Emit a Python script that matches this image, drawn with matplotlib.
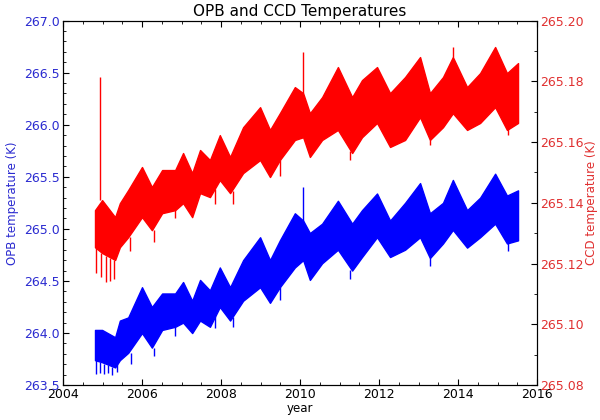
import numpy as np
import matplotlib
matplotlib.use('Agg')
import matplotlib.pyplot as plt
from matplotlib.ticker import MultipleLocator

# time knots (decimal year)
years = [2004.81, 2004.99, 2005.32, 2005.44, 2005.65, 2006.00, 2006.25, 2006.51,
         2006.84, 2007.04, 2007.27, 2007.47, 2007.72, 2007.97, 2008.23, 2008.56,
         2008.99, 2009.24, 2009.49, 2009.87, 2010.08, 2010.25, 2010.56, 2010.96,
         2011.32, 2011.57, 2011.95, 2012.28, 2012.66, 2013.04, 2013.29, 2013.62,
         2013.87, 2014.23, 2014.56, 2014.94, 2015.24, 2015.52]

# OPB temperature envelope (K)
opb_high = [264.03, 264.03, 263.96, 264.12, 264.15, 264.44, 264.25, 264.38,
            264.38, 264.49, 264.31, 264.51, 264.41, 264.63, 264.44, 264.70,
            264.92, 264.70, 264.89, 265.15, 265.08, 264.96, 265.05, 265.27,
            265.05, 265.18, 265.34, 265.08, 265.25, 265.44, 265.15, 265.25,
            265.47, 265.18, 265.30, 265.53, 265.32, 265.37]
opb_low = [263.74, 263.72, 263.67, 263.74, 263.81, 264.00, 263.86, 264.03,
           264.06, 264.10, 264.00, 264.12, 264.06, 264.25, 264.12, 264.31,
           264.44, 264.29, 264.44, 264.63, 264.70, 264.51, 264.67, 264.80,
           264.60, 264.73, 264.92, 264.73, 264.80, 264.92, 264.72, 264.86,
           264.99, 264.82, 264.92, 265.05, 264.86, 264.89]

# CCD temperature envelope (K)
ccd_high = [265.1376, 265.1409, 265.1353, 265.1399, 265.1442, 265.1518, 265.1452, 265.1508,
            265.1508, 265.1564, 265.1498, 265.1574, 265.1541, 265.1623, 265.1551, 265.1649,
            265.1715, 265.1640, 265.1695, 265.1781, 265.1761, 265.1695, 265.1748, 265.1847,
            265.1748, 265.1804, 265.1847, 265.1761, 265.1814, 265.1880, 265.1761, 265.1814,
            265.1880, 265.1781, 265.1827, 265.1913, 265.1827, 265.1860]
ccd_low = [265.1254, 265.1235, 265.1212, 265.1254, 265.1287, 265.1353, 265.1310, 265.1366,
           265.1376, 265.1399, 265.1353, 265.1432, 265.1419, 265.1475, 265.1432, 265.1498,
           265.1541, 265.1485, 265.1541, 265.1607, 265.1616, 265.1551, 265.1607, 265.1640,
           265.1564, 265.1616, 265.1663, 265.1584, 265.1607, 265.1682, 265.1607, 265.1649,
           265.1695, 265.1640, 265.1663, 265.1715, 265.1640, 265.1663]

# isolated spikes (year, tip value, value where spike leaves the band)
opb_spike_years = [2004.83, 2004.93, 2005.05, 2005.15, 2005.25, 2005.36, 2005.72, 2006.30,
                   2006.84, 2007.85, 2008.30, 2009.49, 2011.27, 2013.29, 2015.27, 2010.08]
opb_spike_vals = [263.61, 263.62, 263.61, 263.62, 263.60, 263.63, 263.70, 263.78,
                  263.97, 264.05, 264.06, 264.32, 264.52, 264.64, 264.79, 265.40]
opb_spike_base = [263.74, 263.72, 263.70, 263.69, 263.67, 263.70, 263.81, 263.86,
                  264.06, 264.16, 264.15, 264.44, 264.61, 264.72, 264.86, 265.08]

ccd_spike_years = [2004.83, 2004.94, 2004.96, 2005.10, 2005.18, 2005.28, 2005.70, 2006.30,
                   2006.84, 2007.85, 2008.30, 2009.49, 2011.27, 2013.29, 2015.27,
                   2010.08, 2013.87]
ccd_spike_vals = [265.1169, 265.1814, 265.1156, 265.1140, 265.1143, 265.1150, 265.1241, 265.1271,
                  265.1350, 265.1395, 265.1395, 265.1490, 265.1540, 265.1590, 265.1625,
                  265.1896, 265.1913]
ccd_spike_base = [265.1254, 265.1409, 265.1235, 265.1225, 265.1218, 265.1212, 265.1287, 265.1310,
                  265.1376, 265.1445, 265.1440, 265.1541, 265.1570, 265.1607, 265.1645,
                  265.1761, 265.1880]

fig = plt.figure(figsize=(6, 4.2), dpi=100)
ax = fig.add_axes([0.105, 0.083, 0.79, 0.868])

ax.fill_between(years, opb_low, opb_high, color='b', lw=1.0, edgecolor='b')
ax.vlines(opb_spike_years, opb_spike_base, opb_spike_vals, color='b', lw=1.0)
ax.set_xlim(2004, 2016)
ax.set_ylim(263.5, 267.0)
ax.set_xlabel('year', fontsize=8.5, labelpad=1)
ax.set_ylabel('OPB temperature (K)', color='#2b2bd0', fontsize=8.5, labelpad=4)
ax.set_title('OPB and CCD Temperatures', fontsize=11, pad=3)
ax.xaxis.set_major_locator(MultipleLocator(2))
ax.xaxis.set_minor_locator(MultipleLocator(0.5))
ax.yaxis.set_major_locator(MultipleLocator(0.5))
ax.yaxis.set_minor_locator(MultipleLocator(0.1))
ax.yaxis.set_major_formatter(plt.FormatStrFormatter('%.1f'))
ax.tick_params(axis='x', which='both', direction='in', top=True, labelsize=9, pad=2)
ax.tick_params(axis='y', which='both', direction='in', labelcolor='#2b2bd0', labelsize=9, pad=2)
ax.tick_params(which='major', length=4)
ax.tick_params(which='minor', length=2)

ax2 = ax.twinx()
ax2.fill_between(years, ccd_low, ccd_high, color='r', lw=1.0, edgecolor='r')
ax2.vlines(ccd_spike_years, ccd_spike_base, ccd_spike_vals, color='r', lw=1.0)
ax2.set_ylim(265.08, 265.20)
ax2.yaxis.set_major_locator(MultipleLocator(0.02))
ax2.yaxis.set_minor_locator(MultipleLocator(0.01))
ax2.yaxis.set_major_formatter(plt.FormatStrFormatter('%.2f'))
ax2.set_ylabel('CCD temperature (K)', color='#e03030', fontsize=8.5, labelpad=1)
ax2.tick_params(axis='y', which='both', direction='in', labelcolor='#e03030', labelsize=9, pad=2)
ax2.tick_params(which='major', length=4)
ax2.tick_params(which='minor', length=2)

fig.savefig('out.png', dpi=100)
